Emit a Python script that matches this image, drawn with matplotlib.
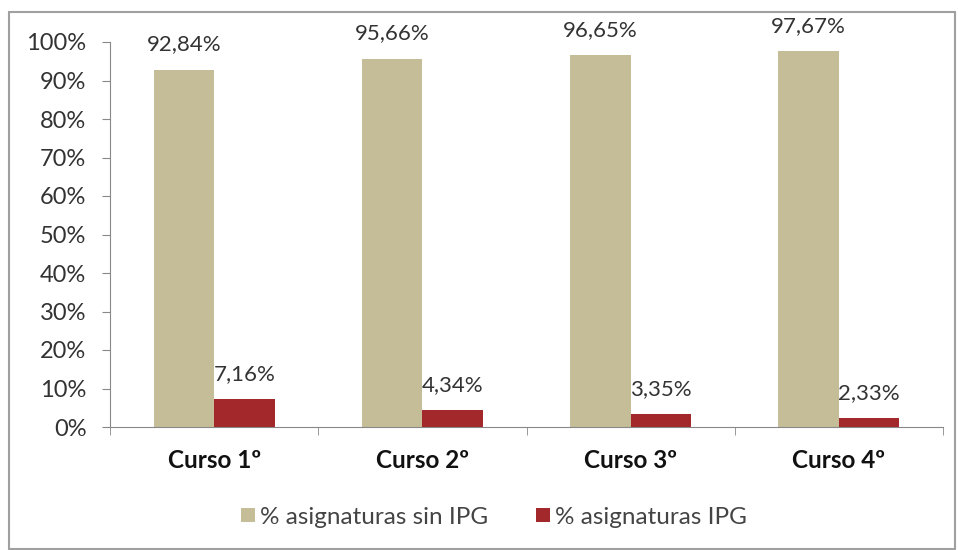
import matplotlib

matplotlib.use("Agg")
import matplotlib.pyplot as plt
import numpy as np
from matplotlib.patches import Rectangle

cursos = ["Curso 1º", "Curso 2º", "Curso 3º", "Curso 4º"]
sin_ipg = [92.84, 95.66, 96.65, 97.67]
con_ipg = [7.16, 4.34, 3.35, 2.33]
series_names = ["% asignaturas sin IPG", "% asignaturas IPG"]
colors = ["#c4bd97", "#a3282b"]

plt.rcParams["font.family"] = ["Lato", "DejaVu Sans"]

W, H = 958, 550
fig = plt.figure(figsize=(W / 100, H / 100), dpi=100)
ax = fig.add_axes([110 / W, 1 - 427 / H, (943 - 110) / W, (427 - 42) / H])

x = np.arange(len(cursos))
width = 0.29
b1 = ax.bar(x - width / 2, sin_ipg, width, color=colors[0], label=series_names[0])
b2 = ax.bar(x + width / 2, con_ipg, width, color=colors[1], label=series_names[1])


def fmt(v):
    return f"{v:.2f}".replace(".", ",") + "%"


for bars, vals in ((b1, sin_ipg), (b2, con_ipg)):
    for rect, v in zip(bars, vals):
        ax.annotate(fmt(v), (rect.get_x() + rect.get_width() / 2, v),
                    xytext=(0, 11), textcoords="offset points",
                    ha="center", va="bottom", fontsize=16, color="#333333",
                    annotation_clip=False)

ax.set_xlim(-0.5, len(cursos) - 0.5)
ax.set_ylim(0, 100)
ax.set_yticks(range(0, 101, 10))
ax.set_yticklabels([f"{v}%" for v in range(0, 101, 10)], fontsize=17, color="#333333")
ax.set_xticks(x)
ax.set_xticklabels(cursos, fontsize=17.5, fontweight="bold", color="#111111")
ax.tick_params(axis="x", length=0, pad=16)
ax.tick_params(axis="y", length=6, color="#888888", pad=11)
ax.set_xticks(np.arange(-0.5, len(cursos)), minor=True)
ax.tick_params(axis="x", which="minor", length=6, color="#888888", direction="out")

for side in ("top", "right"):
    ax.spines[side].set_visible(False)
for side in ("left", "bottom"):
    ax.spines[side].set_color("#888888")

fig.legend(loc="center", bbox_to_anchor=(494 / W, 1 - 517 / H), ncol=2, frameon=False,
           fontsize=17.5, handlelength=0.55, handleheight=0.55, handletextpad=0.2,
           columnspacing=2.0, labelcolor="#444444")

fig.patches.append(Rectangle((9 / W, 0.002), (955 - 9) / W, 1 - 12 / H - 0.002,
                             transform=fig.transFigure, fill=False,
                             edgecolor="#a0a0a0", linewidth=1.5))

fig.savefig("out.png", dpi=100)
